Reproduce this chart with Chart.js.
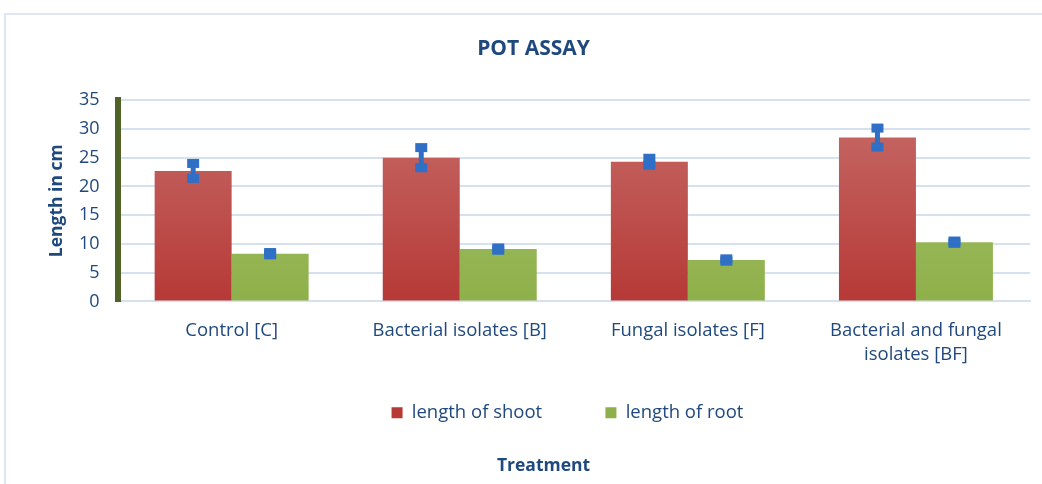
<!DOCTYPE html>
<html>
<head>
<meta charset="utf-8">
<script src="https://cdn.jsdelivr.net/npm/chart.js@4"></script>
<style>
    body { margin: 0; background: #ffffff; }
    #frame {
        position: absolute; left: 4px; top: 13px;
        width: 1040px; height: 476px;
        border: 2px solid #dde6f2; box-sizing: border-box;
        background: #ffffff;
    }
    #potChart { display: block; }
</style>
</head>
<body>
<div id="frame">
    <canvas id="potChart" width="1036" height="472"></canvas>
</div>
<script>
// Chart data
const categories = ['Control [C]', 'Bacterial isolates [B]', 'Fungal isolates [F]', ['Bacterial and fungal', 'isolates [BF]']];
const shootLength = [22.7, 25.0, 24.3, 28.5];
const rootLength = [8.3, 9.1, 7.2, 10.3];
const shootError = [1.3, 1.75, 0.6, 1.65];
const rootError = [0.2, 0.2, 0.2, 0.2];
const yTicks = [0, 5, 10, 15, 20, 25, 30, 35];

const textBlue = '#1f497d';
const fontFamily = "'Open Sans', 'Liberation Sans', sans-serif";

// Vertical gradient fill for the bars
function barGradient(context, top, bottom) {
    const area = context.chart.chartArea;
    if (!area) return bottom;
    const g = context.chart.ctx.createLinearGradient(0, area.top, 0, area.bottom);
    g.addColorStop(0, top);
    g.addColorStop(1, bottom);
    return g;
}

// Error bars with square end markers
const errorBarPlugin = {
    id: 'errorBars',
    afterDatasetsDraw(chart) {
        const ctx = chart.ctx;
        const yScale = chart.scales.y;
        const errors = [shootError, rootError];
        chart.data.datasets.forEach(function (ds, di) {
            const meta = chart.getDatasetMeta(di);
            meta.data.forEach(function (bar, i) {
                const v = ds.data[i];
                const yHi = yScale.getPixelForValue(v + errors[di][i]);
                const yLo = yScale.getPixelForValue(v - errors[di][i]);
                ctx.save();
                ctx.strokeStyle = '#2f6fc5';
                ctx.fillStyle = '#2f6fc5';
                ctx.lineWidth = 5;
                ctx.beginPath();
                ctx.moveTo(bar.x, yHi);
                ctx.lineTo(bar.x, yLo);
                ctx.stroke();
                ctx.fillRect(bar.x - 6, yHi - 4.5, 12, 9);
                ctx.fillRect(bar.x - 6, yLo - 4.5, 12, 9);
                ctx.restore();
            });
        });
    }
};

// Nudge the title, legend and bottom caption sideways after layout
const nudgePlugin = {
    id: 'nudge',
    afterLayout(chart) {
        const shift = function (box, dx) {
            if (!box) return;
            box.left += dx;
            box.right += dx;
        };
        const caption = chart.boxes.find(b => b !== chart.titleBlock && b.options && b.options.text === 'Treatment');
        shift(chart.titleBlock, -5);
        shift(chart.legend, 29);
        shift(caption, 5);
    }
};

const ctx = document.getElementById('potChart').getContext('2d');
new Chart(ctx, {
    type: 'bar',
    data: {
        labels: categories,
        datasets: [{
            label: 'length of shoot',
            data: shootLength,
            backgroundColor: (c) => barGradient(c, '#c66c69', '#b63936')
        }, {
            label: 'length of root',
            data: rootLength,
            backgroundColor: (c) => barGradient(c, '#a8c470', '#8eb04a')
        }]
    },
    plugins: [errorBarPlugin, nudgePlugin],
    options: {
        responsive: false,
        animation: false,
        layout: { padding: { left: 41, right: 12, top: 0, bottom: 0 } },
        datasets: {
            bar: { categoryPercentage: 0.675, barPercentage: 1.0 }
        },
        plugins: {
            title: {
                display: true,
                text: 'POT ASSAY',
                color: textBlue,
                font: { family: fontFamily, size: 21, weight: 'bold' },
                padding: { top: 21, bottom: 39 }
            },
            subtitle: {
                display: true,
                position: 'bottom',
                text: 'Treatment',
                color: textBlue,
                font: { family: fontFamily, size: 17.5, weight: 'bold' },
                padding: { top: 24, bottom: 10 }
            },
            legend: {
                position: 'bottom',
                labels: {
                    color: textBlue,
                    font: { family: fontFamily, size: 18.5 },
                    boxWidth: 11,
                    boxHeight: 11,
                    padding: 20,
                    // extra trailing space widens the gap between the two items
                    generateLabels: function (chart) {
                        const items = Chart.defaults.plugins.legend.labels.generateLabels(chart);
                        items[0].text = items[0].text + '         ';
                        return items;
                    }
                }
            },
            tooltip: { enabled: false }
        },
        scales: {
            x: {
                grid: { display: false, drawTicks: false },
                border: { color: '#d6e1ef', width: 2 },
                ticks: {
                    color: textBlue,
                    font: { family: fontFamily, size: 18.5, lineHeight: 1.3 },
                    padding: 17,
                    maxRotation: 0
                }
            },
            y: {
                min: 0,
                max: 35,
                afterBuildTicks: (axis) => { axis.ticks = yTicks.map(v => ({ value: v })); },
                grid: { color: '#d6e1ef', lineWidth: 2, drawTicks: false },
                border: { color: '#4f6228', width: 6 },
                ticks: {
                    color: textBlue,
                    font: { family: fontFamily, size: 18 },
                    padding: 18
                },
                title: {
                    display: true,
                    text: 'Length in cm',
                    color: textBlue,
                    font: { family: fontFamily, size: 17.5, weight: 'bold' },
                    padding: { top: 0, bottom: -7 }
                }
            }
        }
    }
});
</script>
</body>
</html>
